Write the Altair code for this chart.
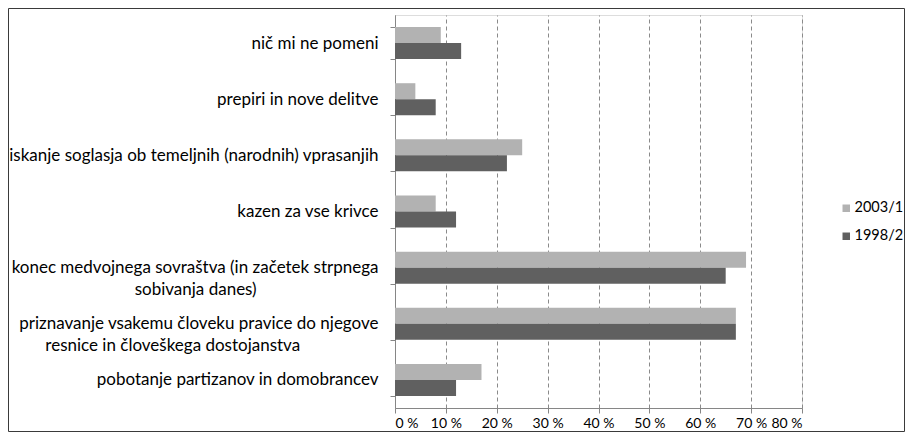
import altair as alt
import pandas as pd

categories = [
    "nič mi ne pomeni",
    "prepiri in nove delitve",
    "iskanje soglasja ob temeljnih (narodnih)  vprasanjih",
    "kazen za vse krivce",
    "konec medvojnega sovraštva (in začetek strpnega|sobivanja danes)",
    "priznavanje vsakemu človeku pravice do njegove|resnice in človeškega dostojanstva",
    "pobotanje partizanov in domobrancev",
]
series = ["2003/1", "1998/2"]
values_2003 = [9, 4, 25, 8, 69, 67, 17]
values_1998 = [13, 8, 22, 12, 65, 67, 12]
x_ticks = [0, 10, 20, 30, 40, 50, 60, 70, 80]
colors = ["#b2b2b2", "#606060"]

rows = []
for c, a, b in zip(categories, values_2003, values_1998):
    rows.append({"cat": c, "series": series[0], "val": a})
    rows.append({"cat": c, "series": series[1], "val": b})
df = pd.DataFrame(rows)

W, H = 407, 393
PL, PT, PR, PB = 387, 7, 103, 24
FONT = "Lato"
AX = "#868686"
NB = "\u00a0"
ZW = "\u200b"

# two-line labels: the second line is centred under the first (as in the original)
def centred(prefix, total):
    parts = "split(datum.label, '|')"
    return (f"indexof(datum.label, '{prefix}') == 0 ? "
            f"[{parts}[0], pad({parts}[1], {total}, '{NB}', 'right') + '{ZW}']")

label_expr = (centred("konec", 44) + " : " + centred("priznavanje", 52)
              + " : split(datum.label, '|')")

bars = alt.Chart(df).mark_bar().encode(
    y=alt.Y("cat:N", sort=categories, title=None,
            scale=alt.Scale(paddingInner=0.43, paddingOuter=0.215),
            axis=alt.Axis(
                labelExpr=label_expr,
                labelFont=FONT, labelFontSize=17, labelColor="#000",
                labelLineHeight=22, labelLimit=450, labelPadding=12,
                tickBand="extent", tickSize=5, tickColor=AX,
                domainColor=AX, grid=False)),
    yOffset=alt.YOffset("series:N", sort=series, scale=alt.Scale(paddingInner=0, paddingOuter=0)),
    x=alt.X("val:Q", title=None,
            scale=alt.Scale(domain=[0, 80], nice=False),
            axis=alt.Axis(values=x_ticks, labelExpr="datum.value + ' %'",
                          labelFont=FONT, labelFontSize=14, labelColor="#000",
                          labelPadding=3,
                          tickSize=5, tickColor=AX, domainColor=AX,
                          grid=True, gridColor="#8a8a8a", gridDash=[4, 3])),
    color=alt.Color("series:N", sort=series,
                    scale=alt.Scale(domain=series, range=colors),
                    legend=alt.Legend(title=None, orient="none", legendX=444, legendY=186,
                                      padding=0,
                                      symbolType="square", symbolSize=56, symbolStrokeWidth=0,
                                      labelFont=FONT, labelFontSize=14.5, labelColor="#000",
                                      labelOffset=1, rowPadding=13)),
)

border = alt.Chart(pd.DataFrame({"a": [0]})).mark_rect(
    filled=False, stroke="#3a3a3a", strokeWidth=1, clip=False
).encode(
    x=alt.value(-PL + 0.5), x2=alt.value(W + PR - 0.5),
    y=alt.value(-PT + 0.5), y2=alt.value(H + PB - 0.5),
)

chart = alt.layer(bars, border).properties(
    width=W, height=H,
    padding={"left": PL, "top": PT, "right": PR, "bottom": PB},
    autosize=alt.AutoSizeParams(type="none"),
).configure_view(stroke=None).configure(background="white")

chart.save("out.html", embed_options={"renderer": "svg", "actions": False})
